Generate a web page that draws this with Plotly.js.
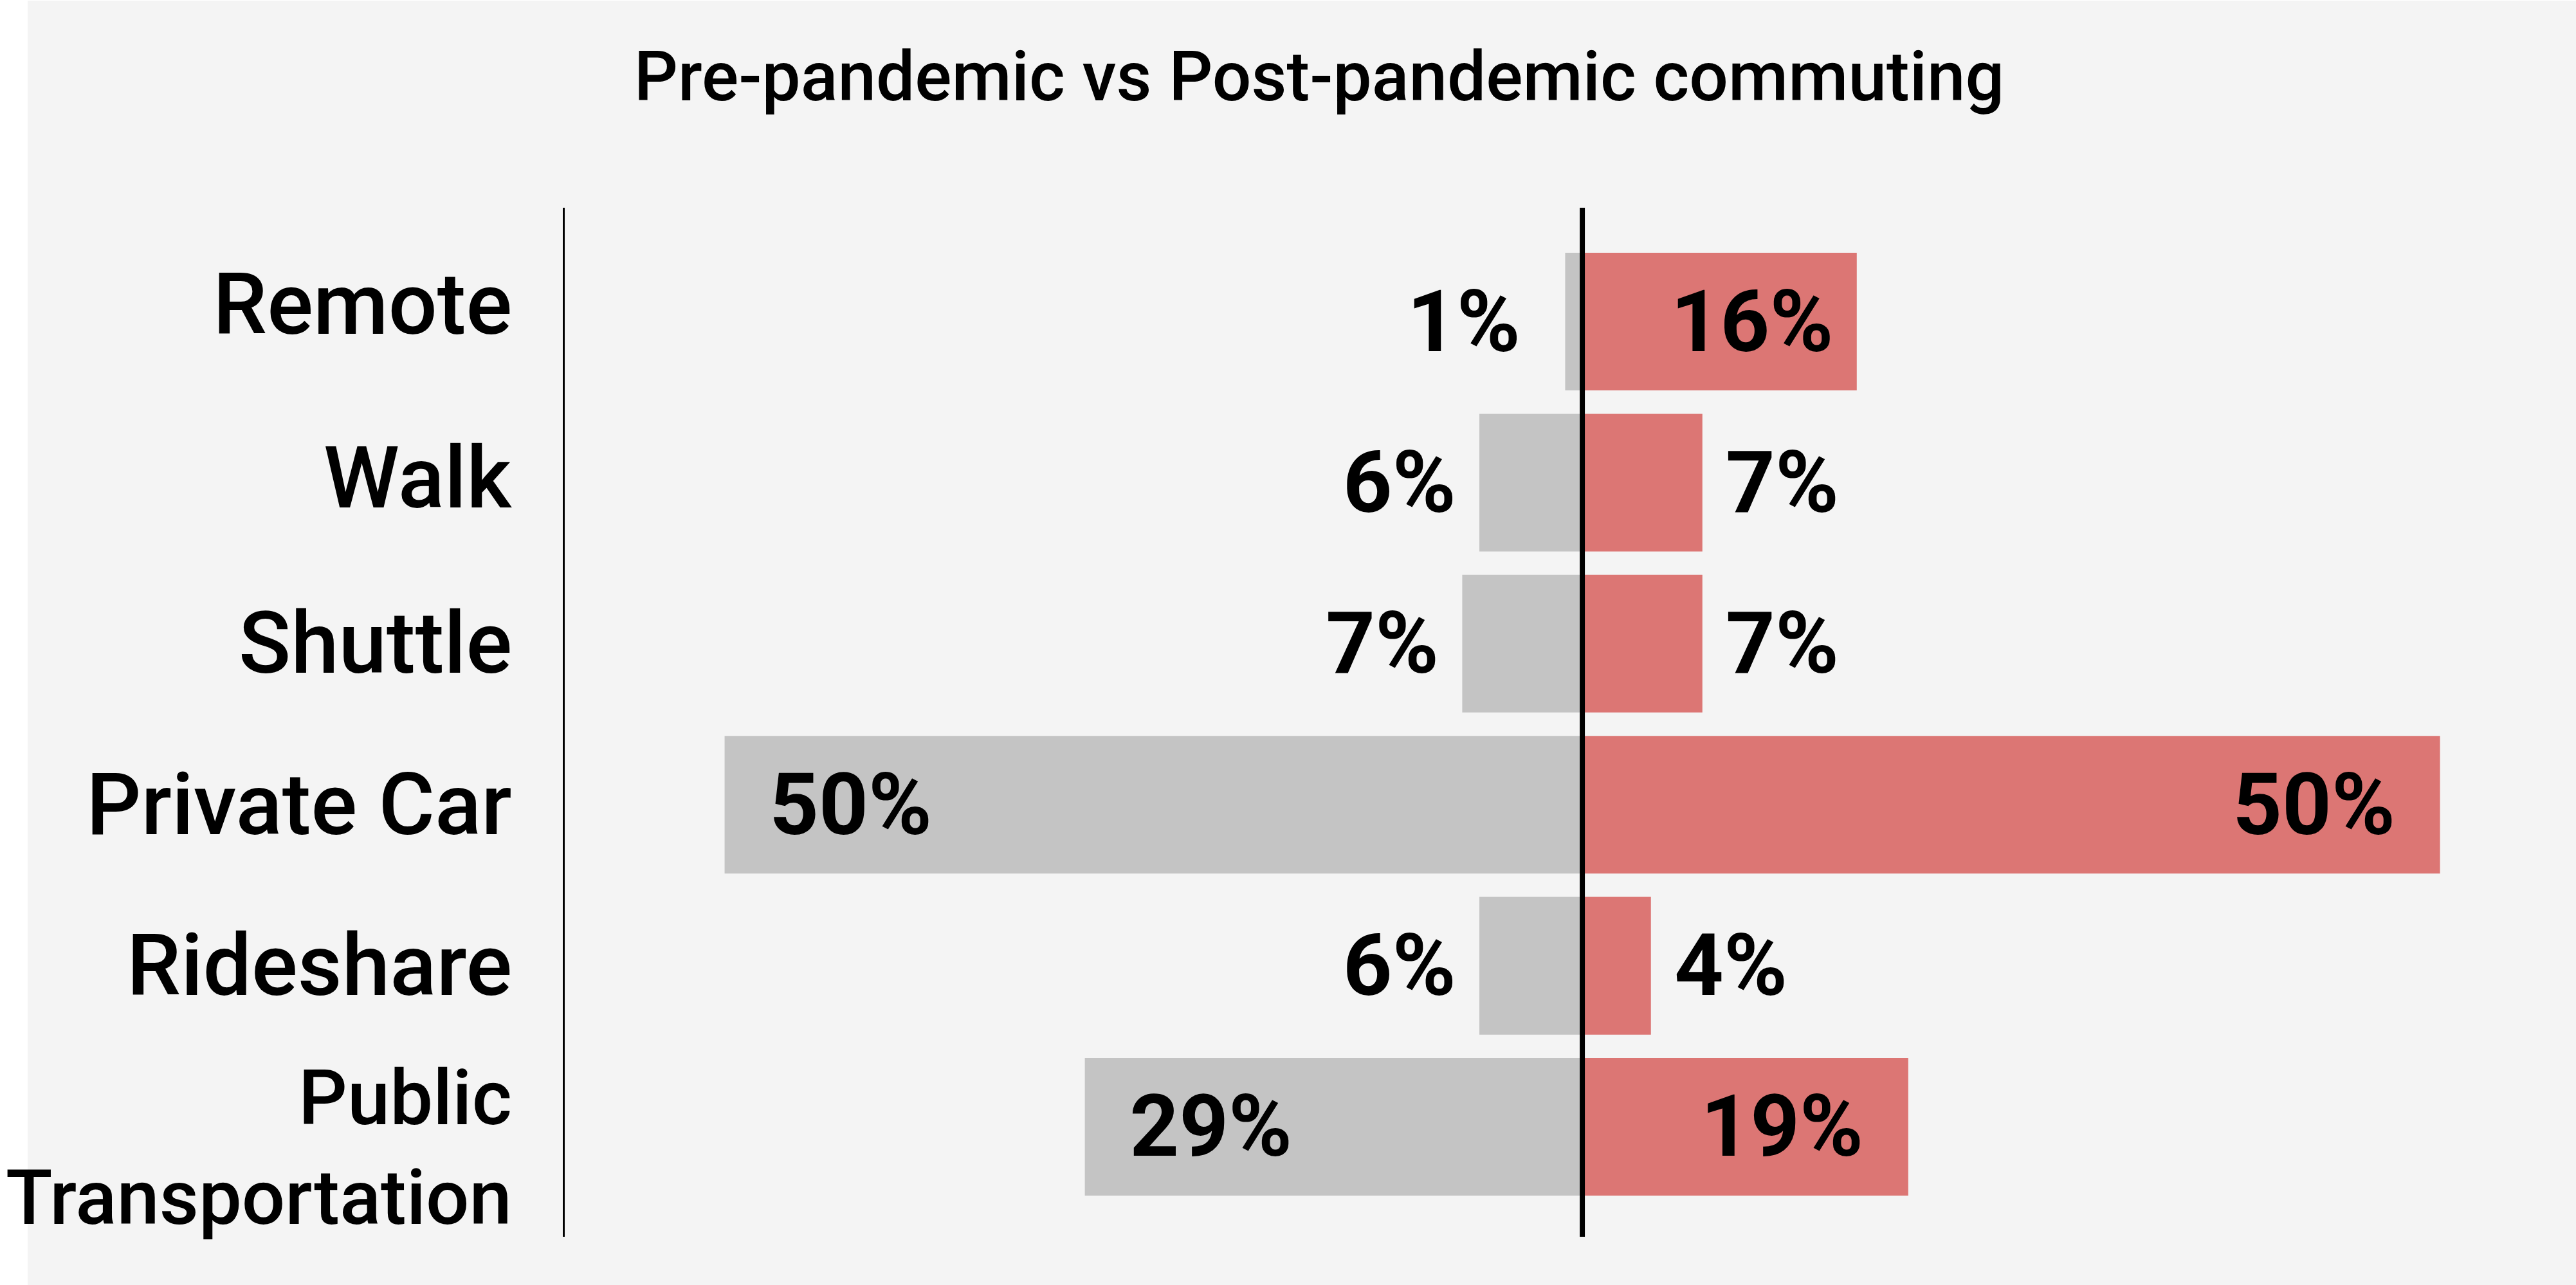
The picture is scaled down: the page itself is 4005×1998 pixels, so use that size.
<!DOCTYPE html>
<html>
<head>
<meta charset="utf-8">
<script src="https://cdn.plot.ly/plotly-3.0.1.min.js"></script>
<style>
  html, body { margin: 0; padding: 0; background: #ffffff; }
  #chart {
    position: absolute; left: 0; top: 1px; width: 4005px; height: 1997px;
    background: linear-gradient(to right, #ffffff 0px, #ffffff 43px, #f4f4f4 43px, #f4f4f4 100%);
  }
</style>
</head>
<body>
<div id="chart"></div>
<script>
// ---- data ----
const categories = ['Remote', 'Walk', 'Shuttle', 'Private Car', 'Rideshare', 'Public Transportation'];
const categoryLabels = ['Remote', 'Walk', 'Shuttle', 'Private Car', 'Rideshare', 'Public<br>Transportation'];
const prePandemic = [1, 6, 7, 50, 6, 29];
const postPandemic = [16, 7, 7, 50, 4, 19];
const titleText = 'Pre-pandemic vs Post-pandemic commuting';

// ---- styling ----
const GREY = '#c4c4c4';
const RED = '#dc7674';
const FONT = 'Roboto, "Noto Sans", sans-serif';

const prePos = ['outside', 'outside', 'outside', 'inside', 'outside', 'inside'];
const postPos = ['inside', 'outside', 'outside', 'inside', 'outside', 'inside'];
const prePad = [2, 1, 1, 2, 1, 2];
const postPad = [1, 1, 1, 2, 1, 2];
const labelSize = [134, 134, 134, 134, 134, 119];
const labelShift = [27, 7, 0, 0, 0, -33];

const sp = n => '\u00a0'.repeat(n);

// Pre-pandemic bars extend to the left (negative side)
const preText = prePandemic.map((v, i) =>
  prePos[i] === 'inside' ? sp(prePad[i]) + v + '%' : v + '%' + sp(prePad[i]));
const postText = postPandemic.map((v, i) =>
  postPos[i] === 'inside' ? v + '%' + sp(postPad[i]) : sp(postPad[i]) + v + '%');

const valueFont = { family: FONT, size: 134, weight: 700, color: '#000000' };

const tracePre = {
  type: 'bar',
  orientation: 'h',
  name: 'Pre-pandemic',
  y: categories,
  x: prePandemic.map(v => -v),
  marker: { color: GREY, line: { width: 0 } },
  text: preText,
  textposition: prePos,
  insidetextanchor: 'end',
  textfont: valueFont,
  insidetextfont: valueFont,
  outsidetextfont: valueFont,
  constraintext: 'none',
  cliponaxis: false,
  hoverinfo: 'skip'
};

const tracePost = {
  type: 'bar',
  orientation: 'h',
  name: 'Post-pandemic',
  y: categories,
  x: postPandemic,
  marker: { color: RED, line: { width: 0 } },
  text: postText,
  textposition: postPos,
  insidetextanchor: 'end',
  textfont: valueFont,
  insidetextfont: valueFont,
  outsidetextfont: valueFont,
  constraintext: 'none',
  cliponaxis: false,
  hoverinfo: 'skip'
};

const annotations = categories.map((c, i) => ({
  xref: 'paper', yref: 'y',
  x: 0, y: c,
  xanchor: 'right', yanchor: 'middle',
  xshift: -80,
  yshift: labelShift[i],
  text: categoryLabels[i],
  align: 'right',
  showarrow: false,
  font: { family: FONT, size: labelSize[i], weight: 500, color: '#000000' }
}));

const layout = {
  width: 4005,
  height: 1997,
  paper_bgcolor: 'rgba(0,0,0,0)',
  plot_bgcolor: 'rgba(0,0,0,0)',
  margin: { l: 878, r: 45, t: 322, b: 75, pad: 0 },
  title: {
    text: titleText,
    font: { family: FONT, size: 107, weight: 500, color: '#000000' },
    xref: 'container', yref: 'container',
    x: 0.5121, xanchor: 'center',
    y: 0.941, yanchor: 'middle'
  },
  barmode: 'overlay',
  bargap: 0.145,
  showlegend: false,
  hovermode: false,
  xaxis: {
    range: [-59.32, 56.24],
    showgrid: false,
    showticklabels: false,
    ticks: '',
    zeroline: false,
    showline: false,
    fixedrange: true
  },
  yaxis: {
    type: 'category',
    categoryorder: 'array',
    categoryarray: categories,
    range: [5.683, -0.707],
    showgrid: false,
    showticklabels: false,
    ticks: '',
    zeroline: false,
    showline: true,
    linecolor: '#000000',
    linewidth: 3,
    fixedrange: true
  },
  shapes: [{
    type: 'line', layer: 'above',
    xref: 'x', x0: 0, x1: 0,
    yref: 'paper', y0: 0, y1: 1,
    line: { color: '#000000', width: 8 }
  }],
  annotations: annotations
};

Plotly.newPlot('chart', [tracePre, tracePost], layout, { displayModeBar: false, staticPlot: true });
</script>
</body>
</html>
